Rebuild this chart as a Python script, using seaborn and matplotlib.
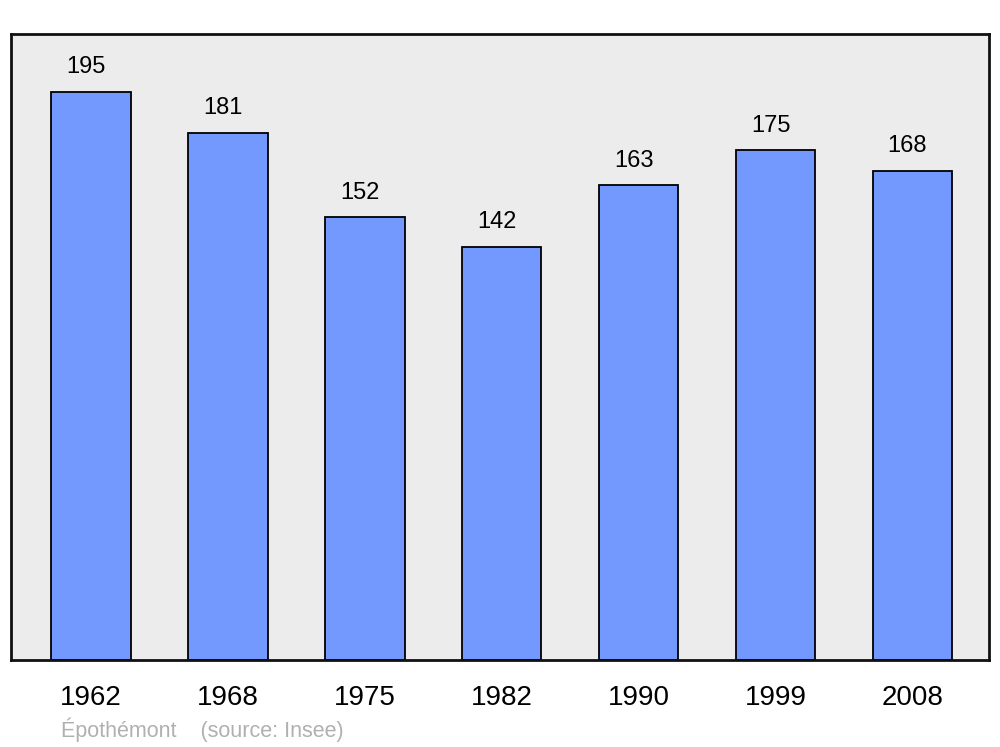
import numpy as np
import pandas as pd
import matplotlib
matplotlib.use("Agg")
import matplotlib.pyplot as plt
import seaborn as sns

years = ["1962", "1968", "1975", "1982", "1990", "1999", "2008"]
population = [195, 181, 152, 142, 163, 175, 168]

sns.set_style("white")
plt.rcParams["font.family"] = ["Liberation Sans", "DejaVu Sans"]
plt.rcParams["text.color"] = "black"
plt.rcParams["xtick.color"] = "black"

df = pd.DataFrame({"year": years, "pop": population})

fig = plt.figure(figsize=(10, 7.47), dpi=100)
ax = fig.add_axes([0.011, 0.1165, 0.978, 0.838])
ax.set_facecolor("#ececec")

sns.barplot(data=df, x="year", y="pop", color="#7399ff", saturation=1,
            width=0.58, edgecolor="black", linewidth=1.3, ax=ax)

# value labels above each bar (slightly left of centre, as in the original)
for i, v in enumerate(population):
    ax.annotate(str(v), (i, v), xytext=(-3.5, 10), textcoords="offset points",
                ha="center", va="bottom", fontsize=17, color="black")

ax.set_xlim(-0.585, 6.56)
ax.set_ylim(0, 215)
ax.set_yticks([])
ax.set_xlabel("")
ax.set_ylabel("")
ax.tick_params(axis="x", length=0, pad=18, labelsize=20, labelcolor="black")
for s in ax.spines.values():
    s.set_visible(True)
    s.set_linewidth(2)
    s.set_color("#111111")

fig.text(0.061, 0.013, "Épothémont    (source: Insee)", color="#b0b0b0",
         fontsize=15.5, ha="left", va="baseline")

fig.savefig("out.png", dpi=100)
